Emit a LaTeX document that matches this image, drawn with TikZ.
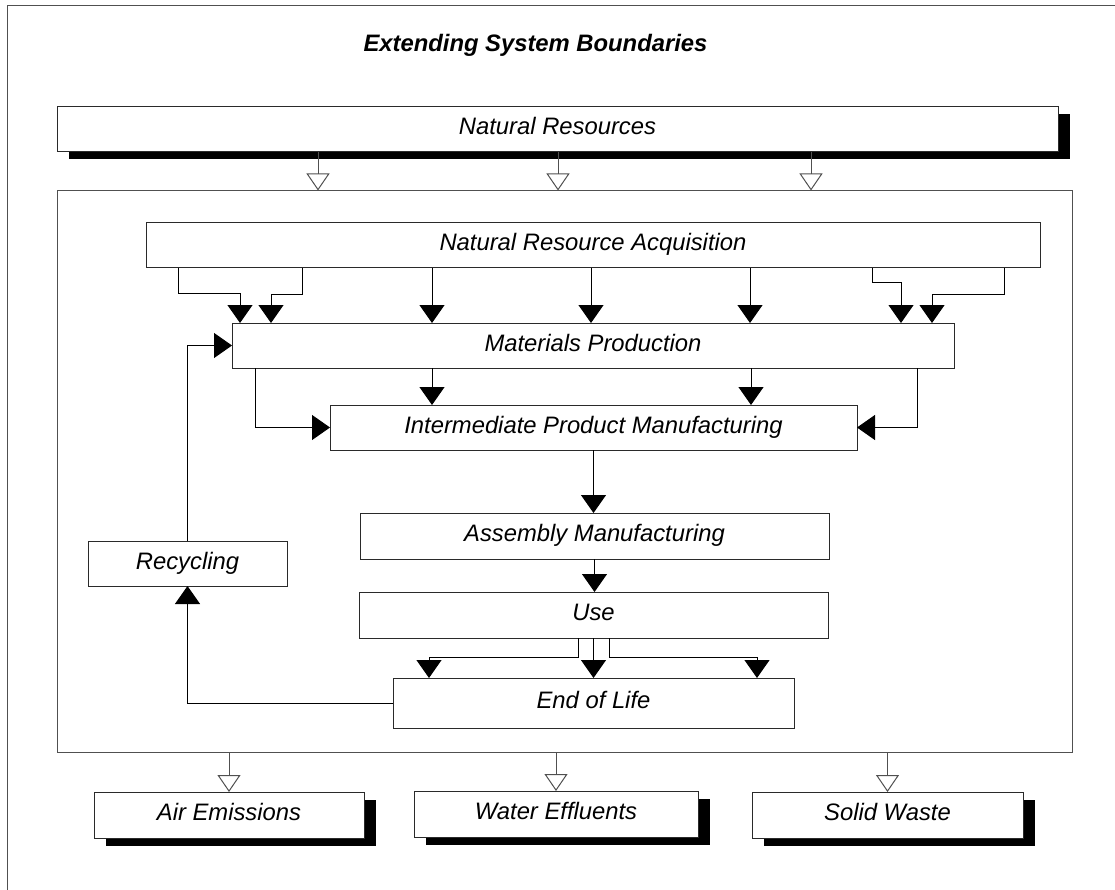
\documentclass[tikz,border=0pt]{standalone}
\usepackage{fontspec}
\setmainfont{Liberation Sans}
\usetikzlibrary{arrows.meta, shadows}
\definecolor{frame_gray}{HTML}{505050}
\definecolor{box_gray}{HTML}{2a2a2a}

\begin{document}
\begin{tikzpicture}[
                x=1pt,
                y=-1pt,
                line cap=butt,
                line join=miter,
                stage/.style={draw=box_gray, line width=1pt, fill=white,
                    inner sep=0pt, outer sep=0pt, align=center,
                    text height=17pt, text depth=6pt,
                    font=\itshape\fontsize{23.8pt}{28pt}\selectfont},
                flowbox/.style={stage, drop shadow={shadow xshift=12pt,
                    shadow yshift=-7.5pt, fill=black, opacity=1}},
                frame/.style={draw=frame_gray, line width=1pt},
                flow/.style={line width=1pt, -{Triangle[width=25pt,length=18pt]}},
                hollow/.style={draw=frame_gray, line width=1pt,
                    -{Triangle[open,width=23pt,length=17pt]}}
            ]
            \useasboundingbox (0,0) rectangle (1115,890);
            \clip (0,0) rectangle (1115,890);

            % Page frame and title
            \draw[frame] (7,5.5) rectangle (1130,900);
            \node[anchor=base west, font=\bfseries\itshape\fontsize{23.8pt}{28pt}\selectfont]
                (title) at (360,52) {Extending System Boundaries};

            % Inputs and system boundary
            \node[flowbox, minimum width=1001pt, minimum height=45pt] (natres) at (557.5,129.5) {Natural Resources};
            \node[frame, inner sep=0pt, minimum width=1015pt, minimum height=561pt] (system) at (564.5,471.5) {};

            % Life cycle stages
            \node[stage, minimum width=894pt, minimum height=45pt] (acquire) at (593,245.5) {Natural Resource Acquisition};
            \node[stage, minimum width=722pt, minimum height=45pt] (materials) at (593,345.5) {Materials Production};
            \node[stage, minimum width=527pt, minimum height=45pt] (intermed) at (593.5,427.5) {Intermediate Product Manufacturing};
            \node[stage, minimum width=469pt, minimum height=46pt] (assembly) at (594.5,536) {Assembly Manufacturing};
            \node[stage, minimum width=469pt, minimum height=46pt] (use) at (593.5,615) {Use};
            \node[stage, minimum width=401pt, minimum height=50pt] (endlife) at (593.5,703) {End of Life};
            \node[stage, minimum width=199pt, minimum height=45pt] (recycle) at (187.5,563.5) {Recycling};

            % Outputs
            \node[flowbox, minimum width=270pt, minimum height=46pt] (air) at (229,815) {Air Emissions};
            \node[flowbox, minimum width=284pt, minimum height=46pt] (water) at (556,814) {Water Effluents};
            \node[flowbox, minimum width=271pt, minimum height=46pt] (solid) at (887.5,815) {Solid Waste};

            % Hollow arrows across the boundary
            \foreach \dx in {-239.5,0.5,253.5}
                \draw[hollow] ([xshift=\dx pt]natres.south) -- ([xshift=\dx pt]natres.south |- system.north);
            \draw[hollow] (system.south -| air.north) -- (air.north);
            \draw[hollow] (system.south -| water.north) -- (water.north);
            \draw[hollow] (system.south -| solid.north) -- (solid.north);

            % Acquisition to materials
            \foreach \dx in {-161,-2,157}
                \draw[flow] ([xshift=\dx pt]acquire.south) -- ([xshift=\dx pt]acquire.south |- materials.north);
            \draw[flow] ([xshift=-415pt]acquire.south) -- ++(0,26) -| ([xshift=-353pt]materials.north);
            \draw[flow] ([xshift=-291pt]acquire.south) -- ++(0,27) -| ([xshift=-322pt]materials.north);
            \draw[flow] ([xshift=279pt]acquire.south) -- ++(0,15) -| ([xshift=308pt]materials.north);
            \draw[flow] ([xshift=411pt]acquire.south) -- ++(0,27) -| ([xshift=339pt]materials.north);

            % Materials to intermediate products
            \draw[flow] ([xshift=-161pt]materials.south) -- ([xshift=-161pt]materials.south |- intermed.north);
            \draw[flow] ([xshift=158pt]materials.south) -- ([xshift=158pt]materials.south |- intermed.north);
            \draw[flow] ([xshift=-338pt]materials.south) |- (intermed.west);
            \draw[flow] ([xshift=324pt]materials.south) |- (intermed.east);

            % Down the chain
            \draw[flow] (intermed.south) -- (intermed.south |- assembly.north);
            \draw[flow] (assembly.south) -- (assembly.south |- use.north);
            \draw[flow] (use.south) -- (use.south |- endlife.north);
            \draw[flow] ([xshift=-15.5pt]use.south) -- ++(0,19) -| ([xshift=-164.5pt]endlife.north);
            \draw[flow] ([xshift=15.5pt]use.south) -- ++(0,19) -| ([xshift=163.5pt]endlife.north);

            % Recycling loop
            \draw[flow] (endlife.west) -| (recycle.south);
            \draw[flow] (recycle.north) |- (materials.west);
        \end{tikzpicture}
\end{document}
